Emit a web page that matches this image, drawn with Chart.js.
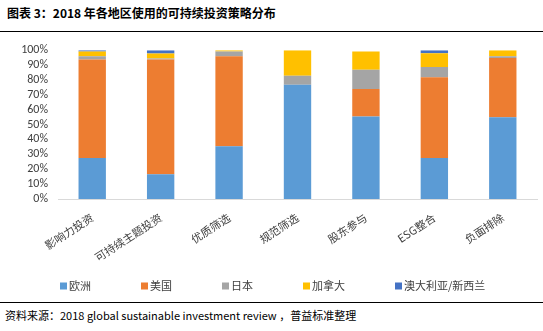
<!DOCTYPE html>
<html>
<head>
<meta charset="utf-8">
<script src="https://cdn.jsdelivr.net/npm/chart.js@4/dist/chart.umd.min.js"></script>
<style>
  body { margin: 0; width: 543px; height: 331px; background: #fff; position: relative; overflow: hidden; font-family: "Noto Sans CJK SC", sans-serif; }
  #title { position: absolute; left: 7px; top: 4px; font-size: 12px; font-weight: bold; color: #000; }
  .rule { position: absolute; left: 0; width: 543px; height: 1px; background: #000; }
  #box { position: absolute; left: 0; top: 33px; width: 543px; height: 268px; }
  #source { position: absolute; left: 5px; top: 307px; font-size: 11px; color: #000; }
</style>
</head>
<body>
<div id="title">图表 3：2018 年各地区使用的可持续投资策略分布</div>
<div class="rule" style="top:31px"></div>
<div id="box"><canvas id="chart" width="543" height="268"></canvas></div>
<div class="rule" style="top:302px"></div>
<div id="source">资料来源：2018 global sustainable investment review ，普益标准整理</div>
<script>
// ===== 数据 =====
const categories = ['影响力投资', '可持续主题投资', '优质筛选', '规范筛选', '股东参与', 'ESG整合', '负面排除'];
const regions = ['欧洲', '美国', '日本', '加拿大', '澳大利亚/新西兰'];
const europe    = [27.6, 16.6, 35.5, 76.8, 55.4, 27.6, 55.0];
const usa       = [66.2, 77.2, 60.5, 0, 18.6, 54.3, 39.7];
const japan     = [2.2, 0.7, 3.1, 6.0, 12.8, 6.8, 1.3];
const canada    = [3.1, 3.3, 0.9, 17.2, 12.3, 9.3, 4.0];
const australia = [0.9, 2.2, 0, 0, 0, 2.0, 0];
const yTicks = [0, 10, 20, 30, 40, 50, 60, 70, 80, 90, 100];

const colors = ['#5B9BD5', '#ED7D31', '#A5A5A5', '#FFC000', '#4472C4'];
const series = [europe, usa, japan, canada, australia];

// 底部图例：固定间距，自己画
const bottomLegend = {
    id: 'bottomLegend',
    afterDraw(chart) {
        const c = chart.ctx;
        c.save();
        c.font = '11px "Noto Sans CJK SC"';
        c.textBaseline = 'middle';
        let x = 60;
        const y = 253;
        chart.data.datasets.forEach(ds => {
            c.fillStyle = ds.backgroundColor;
            c.fillRect(x, y - 3.5, 7, 7);
            c.fillStyle = '#404040';
            c.fillText(ds.label, x + 9, y);
            x += 9 + c.measureText(ds.label).width + 50;
        });
        c.restore();
    }
};

const ctx = document.getElementById('chart').getContext('2d');
new Chart(ctx, {
    type: 'bar',
    data: {
        labels: categories,
        datasets: series.map((vals, i) => ({
            label: regions[i],
            data: vals,
            backgroundColor: colors[i],
            borderWidth: 0,
            barPercentage: 0.4,
            categoryPercentage: 1
        }))
    },
    plugins: [bottomLegend],
    options: {
        responsive: false,
        animation: false,
        layout: { padding: { top: 8, right: 6, left: 0, bottom: 0 } },
        plugins: {
            tooltip: { enabled: false },
            legend: { display: false }
        },
        scales: {
            x: {
                stacked: true,
                afterFit: s => { s.height = 102; },
                grid: { display: false, drawTicks: false },
                border: { color: '#d9d9d9', width: 1 },
                ticks: {
                    minRotation: 33, maxRotation: 33, padding: 12,
                    autoSkip: false,
                    color: '#404040',
                    font: { family: '"Noto Sans CJK SC"', size: 11 }
                }
            },
            y: {
                stacked: true,
                min: 0, max: 100,
                afterFit: s => { s.width = 58; },
                afterBuildTicks: s => { s.ticks = yTicks.map(v => ({ value: v })); },
                grid: { display: false, drawTicks: false },
                border: { display: false },
                ticks: {
                    padding: 10,
                    autoSkip: false,
                    color: '#404040',
                    font: { family: 'Carlito, "Liberation Sans", sans-serif', size: 12 },
                    callback: v => v + '%'
                }
            }
        }
    }
});
</script>
</body>
</html>
